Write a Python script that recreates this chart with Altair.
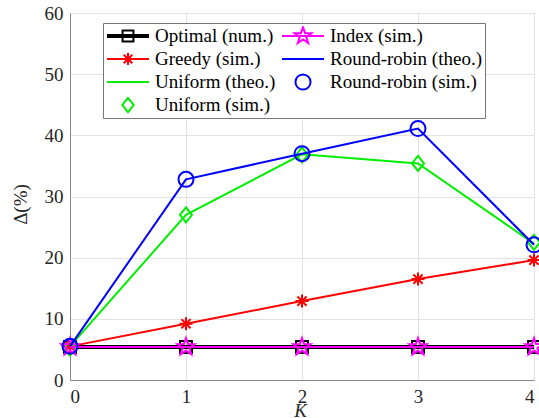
import altair as alt
import pandas as pd
import numpy as np

# ---------------- data ----------------
K = [0, 1, 2, 3, 4]
optimal_num = [5.4, 5.4, 5.4, 5.4, 5.4]
greedy_sim = [5.5, 9.2, 12.9, 16.5, 19.6]
uniform_theo = [5.5, 27.0, 36.9, 35.4, 22.3]
uniform_sim = [5.2, 27.0, 36.8, 35.4, 22.5]
index_sim = [5.4, 5.4, 5.4, 5.4, 5.4]
rr_theo = [5.5, 32.8, 37.0, 41.1, 22.1]
rr_sim = [5.5, 32.8, 37.0, 41.1, 22.1]

x_ticks = [0, 1, 2, 3, 4]
y_ticks = [0, 10, 20, 30, 40, 50, 60]

names = {
    "opt": "Optimal (num.)",
    "idx": "Index (sim.)",
    "gre": "Greedy (sim.)",
    "rrt": "Round-robin (theo.)",
    "unt": "Uniform (theo.)",
    "rrs": "Round-robin (sim.)",
    "uns": "Uniform (sim.)",
}
series_values = {
    "opt": optimal_num, "idx": index_sim, "gre": greedy_sim,
    "rrt": rr_theo, "unt": uniform_theo, "rrs": rr_sim, "uns": uniform_sim,
}
colors = {
    "opt": "#000000", "idx": "#ff00ff", "gre": "#ff0000",
    "rrt": "#0000ff", "unt": "#00ee00", "rrs": "#0000ff", "uns": "#00ee00",
}
# legend is filled column by column
legend_order = ["opt", "gre", "unt", "uns", "idx", "rrt", "rrs"]

rows = []
for key in legend_order:
    for k, v in zip(K, series_values[key]):
        rows.append({"K": k, "value": v, "series": names[key]})
df = pd.DataFrame(rows)

# ---------------- marker shapes (unit paths) ----------------
def star_path(R=1.0, cx=0.0):
    pts = []
    for i in range(10):
        r = R if i % 2 == 0 else R * 0.40
        a = np.deg2rad(-90 + 36 * i)
        pts.append((cx + r * np.cos(a), r * np.sin(a)))
    return "M" + " L".join(f"{x:.3f},{y:.3f}" for x, y in pts) + " Z"

def asterisk_path(R=1.0):
    d = R * 0.7071
    return (f"M{-R},0 L{R},0 M0,{-R} L0,{R} "
            f"M{-d:.3f},{-d:.3f} L{d:.3f},{d:.3f} M{-d:.3f},{d:.3f} L{d:.3f},{-d:.3f}")

def diamond_path(R=1.0):
    w = R * 0.8
    return f"M0,{-R} L{w:.3f},0 L0,{R} L{-w:.3f},0 Z"

def square_path(h):
    return f"M{-h},{-h} L{h},{-h} L{h},{h} L{-h},{h} Z"

def circle_path(r):
    return f"M{r},0 A{r},{r} 0 1,1 {-r},0 A{r},{r} 0 1,1 {r},0 Z"

LINE = "M-1,0 L1,0"
THICK = "M-1,-0.05 L1,-0.05 M-1,0.05 L1,0.05 M-1,0 L1,0"
legend_shapes = {
    "opt": THICK + " " + square_path(0.26),
    "idx": LINE + " " + star_path(0.42),
    "gre": LINE + " " + asterisk_path(0.29),
    "rrt": LINE,
    "unt": LINE,
    "rrs": circle_path(0.36),
    "uns": diamond_path(0.34),
}

# ---------------- encodings ----------------
FONT = "Liberation Serif"
X = alt.X(
    "K:Q",
    scale=alt.Scale(domain=[0, 4], nice=False, zero=False),
    axis=alt.Axis(
        values=x_ticks, format="d", title="K", titleFontStyle="italic",
        titleX=230, titleY=36, titleAlign="center", titleBaseline="alphabetic",
        labelPadding=7,
    ),
)
Y = alt.Y(
    "value:Q",
    scale=alt.Scale(domain=[0, 60], nice=False),
    axis=alt.Axis(
        values=y_ticks, format="d", title="Δ(%)",
        titleX=-50, titleY=191, titleAngle=270, titleAlign="center",
        titleBaseline="middle", labelPadding=7,
    ),
)

def line_layer(key, width=2):
    return (
        alt.Chart(df)
        .transform_filter(alt.datum.series == names[key])
        .mark_line(color=colors[key], strokeWidth=width, clip=False)
        .encode(x=X, y=Y)
    )

def point_layer(key, shape, size):
    return (
        alt.Chart(df)
        .transform_filter(alt.datum.series == names[key])
        .mark_point(shape=shape, size=size, filled=False, color=colors[key],
                    strokeWidth=2, opacity=1, clip=False)
        .encode(x=X, y=Y)
    )

layers = [
    line_layer("opt", 4),
    point_layer("opt", "square", 144),
    line_layer("gre", 2),
    point_layer("gre", asterisk_path(1.0), 169),
    line_layer("unt", 2),
    point_layer("uns", diamond_path(1.0), 225),
    line_layer("idx", 2),
    point_layer("idx", star_path(1.0), 324),
    line_layer("rrt", 2),
    point_layer("rrs", "circle", 225),
]

legend_props = dict(
    title=None, orient="none", legendX=33, legendY=10,
    columns=2, columnPadding=5, rowPadding=3, clipHeight=20,
    symbolSize=1764, symbolStrokeWidth=2, symbolOpacity=1,
    symbolFillColor="transparent",
    labelFont=FONT, labelFontSize=19, labelColor="#000000",
    labelOffset=5, labelLimit=300,
    padding=3, strokeColor="#777777", fillColor="#ffffff",
)

legend_layer = (
    alt.Chart(df)
    .mark_point(filled=False, opacity=0)
    .encode(
        x=X, y=Y,
        color=alt.Color(
            "series:N",
            scale=alt.Scale(domain=[names[k] for k in legend_order],
                            range=[colors[k] for k in legend_order]),
            legend=alt.Legend(**legend_props),
        ),
        shape=alt.Shape(
            "series:N",
            scale=alt.Scale(domain=[names[k] for k in legend_order],
                            range=[legend_shapes[k] for k in legend_order]),
            legend=alt.Legend(**legend_props),
        ),
    )
)

chart = (
    alt.layer(*layers, legend_layer)
    .properties(
        width=464, height=367,
        autosize=alt.AutoSizeParams(type="none"),
        padding={"left": 70, "top": 13, "right": 5, "bottom": 38},
    )
    .configure_view(stroke="#8a8a8a", strokeWidth=1)
    .configure_axis(
        labelFont=FONT, labelFontSize=19, labelColor="#262626",
        titleFont=FONT, titleFontSize=19, titleColor="#262626", titleFontWeight="normal",
        gridColor="#e2e2e2", gridWidth=1, domainColor="#8a8a8a",
        tickSize=0, domain=True,
    )
)

chart.save("out.html", embed_options={"renderer": "svg", "actions": False})
